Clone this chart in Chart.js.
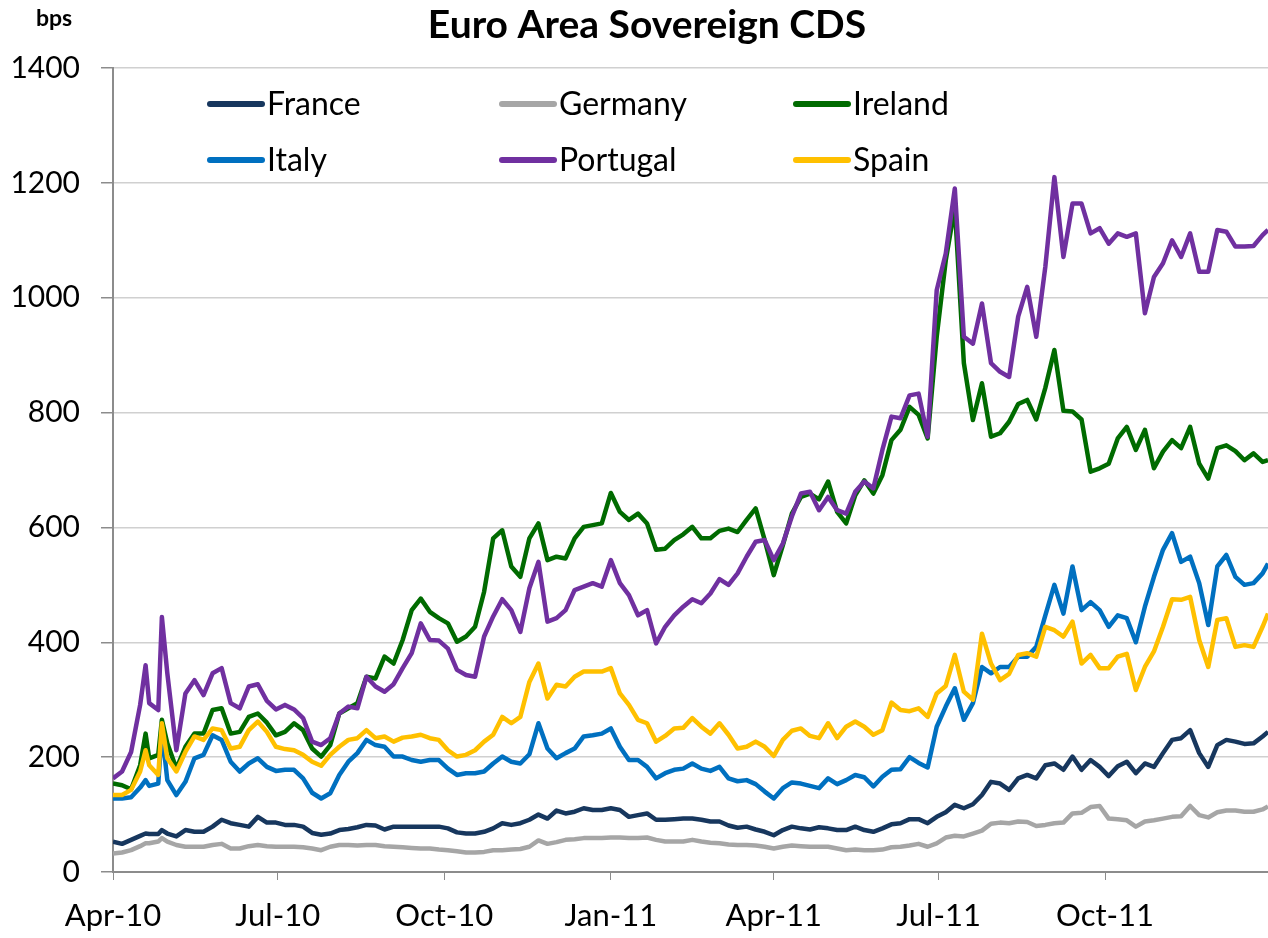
<!DOCTYPE html>
<html>
<head>
<meta charset="utf-8">
<title>Euro Area Sovereign CDS</title>
<script src="https://cdn.jsdelivr.net/npm/chart.js@4.4.1/dist/chart.umd.min.js"></script>
<style>
  body { margin: 0; background: #fff; }
  canvas { display: block; }
</style>
</head>
<body>
<canvas id="cdsChart" width="1268" height="938"></canvas>
<script>
// days since 1 Apr 2010
const days = [0, 5, 10, 15, 18, 20, 25, 27,
  30, 35, 40, 45, 50, 55, 60, 65, 70, 75,
  80, 85, 90, 95, 100, 105, 110, 115, 120, 125,
  130, 135, 140, 145, 150, 155, 160, 165, 170, 175,
  180, 185, 190, 195, 200, 205, 210, 215, 220, 225,
  230, 235, 240, 245, 250, 255, 260, 265, 270, 275,
  280, 285, 290, 295, 300, 305, 310, 315, 320, 325,
  330, 335, 340, 345, 350, 355, 360, 365, 370, 375,
  380, 385, 390, 395, 400, 405, 410, 415, 420, 425,
  430, 435, 440, 445, 450, 455, 460, 465, 470, 475,
  480, 485, 490, 495, 500, 505, 510, 515, 520, 525,
  530, 535, 540, 545, 550, 555, 560, 565, 570, 575,
  580, 585, 590, 595, 600, 605, 610, 615, 620, 625,
  630, 635, 638];

const tickDays = [0, 91, 183, 275, 365, 456, 548];
const tickLabels = ["Apr-10", "Jul-10", "Oct-10", "Jan-11", "Apr-11", "Jul-11", "Oct-11"];

const france = [53, 49, 56, 63, 67, 66, 66, 73,
  67, 62, 73, 70, 70, 79, 91, 85, 82, 79,
  96, 86, 86, 82, 82, 79, 68, 65, 67, 73,
  75, 78, 82, 81, 74, 79, 79, 79, 79, 79,
  79, 76, 69, 67, 67, 70, 76, 85, 82, 85,
  91, 100, 93, 107, 102, 105, 111, 108, 108, 111,
  108, 96, 99, 102, 91, 91, 92, 93, 93, 91,
  88, 88, 81, 77, 79, 74, 70, 64, 73, 79,
  76, 74, 78, 76, 73, 73, 79, 73, 70, 76,
  83, 85, 92, 92, 85, 96, 104, 117, 111, 118,
  134, 157, 154, 143, 163, 169, 163, 186, 189, 178,
  201, 178, 195, 183, 167, 184, 192, 172, 189, 183,
  207, 230, 233, 247, 207, 183, 221, 230, 227, 223,
  224, 236, 244];

const germany = [32, 34, 38, 45, 50, 50, 53, 59,
  53, 47, 44, 44, 44, 47, 49, 41, 41, 45,
  47, 45, 44, 44, 44, 43, 41, 38, 44, 47,
  47, 46, 47, 47, 45, 44, 43, 42, 41, 41,
  39, 38, 36, 34, 34, 35, 38, 38, 39, 40,
  44, 55, 49, 52, 56, 57, 59, 59, 59, 60,
  60, 59, 59, 60, 56, 53, 53, 53, 56, 53,
  51, 50, 48, 47, 47, 46, 44, 41, 44, 46,
  45, 44, 44, 44, 41, 38, 39, 38, 38, 39,
  43, 44, 46, 49, 44, 50, 60, 63, 62, 67,
  72, 84, 86, 85, 88, 87, 80, 82, 85, 86,
  102, 103, 113, 115, 93, 92, 90, 79, 88, 90,
  93, 96, 97, 115, 99, 95, 104, 107, 107, 105,
  105, 109, 114];

const ireland = [154, 151, 144, 186, 241, 198, 204, 265,
  224, 180, 218, 241, 241, 282, 285, 241, 244, 270,
  276, 260, 238, 244, 259, 247, 215, 201, 221, 276,
  285, 294, 340, 337, 375, 363, 404, 456, 476, 453,
  442, 433, 401, 410, 427, 488, 581, 595, 532, 514,
  581, 607, 543, 549, 546, 581, 601, 604, 607, 660,
  627, 613, 624, 607, 561, 563, 578, 588, 601, 581,
  581, 594, 598, 592, 613, 633, 578, 517, 569, 624,
  653, 659, 649, 680, 627, 607, 656, 682, 659, 691,
  752, 770, 810, 796, 755, 932, 1065, 1158, 886, 787,
  851, 758, 764, 784, 815, 822, 788, 843, 909, 803,
  802, 788, 697, 703, 711, 755, 775, 735, 770, 703,
  732, 752, 738, 775, 711, 685, 738, 743, 733, 717,
  729, 714, 717];

const italy = [128, 128, 130, 147, 160, 150, 154, 247,
  160, 134, 157, 198, 204, 238, 230, 192, 175, 189,
  198, 183, 176, 178, 178, 163, 138, 128, 137, 169,
  192, 207, 230, 221, 218, 201, 201, 195, 192, 195,
  195, 180, 169, 172, 172, 175, 189, 201, 192, 189,
  205, 259, 215, 198, 207, 215, 236, 238, 241, 250,
  218, 195, 195, 183, 163, 172, 178, 180, 189, 180,
  176, 183, 163, 158, 160, 153, 140, 128, 146, 156,
  154, 150, 146, 163, 153, 160, 169, 165, 149, 166,
  178, 179, 200, 190, 182, 253, 288, 320, 265, 294,
  357, 346, 357, 357, 375, 375, 392, 447, 500, 450,
  532, 456, 470, 456, 427, 447, 442, 400, 462, 514,
  561, 590, 540, 549, 503, 430, 532, 552, 514, 500,
  503, 520, 537];

const portugal = [163, 175, 209, 291, 360, 294, 282, 444,
  346, 212, 311, 334, 308, 346, 355, 294, 285, 323,
  327, 298, 283, 291, 283, 268, 227, 221, 233, 276,
  288, 285, 340, 323, 314, 327, 355, 381, 433, 404,
  403, 389, 352, 343, 340, 410, 445, 475, 456, 418,
  494, 540, 436, 442, 456, 491, 497, 503, 497, 543,
  503, 482, 447, 456, 398, 427, 447, 462, 475, 468,
  485, 510, 500, 520, 549, 575, 578, 543, 572, 619,
  659, 662, 630, 653, 630, 624, 662, 680, 668, 735,
  793, 790, 830, 833, 758, 1013, 1077, 1190, 932, 920,
  990, 886, 871, 862, 967, 1019, 932, 1054, 1210, 1071,
  1164, 1164, 1112, 1121, 1094, 1112, 1106, 1112, 973, 1036,
  1060, 1100, 1071, 1112, 1045, 1045, 1118, 1115, 1089, 1089,
  1090, 1109, 1118];

const spain = [134, 134, 143, 175, 212, 186, 169, 259,
  198, 175, 209, 236, 230, 250, 247, 215, 218, 247,
  262, 244, 218, 214, 212, 204, 192, 185, 204, 218,
  230, 233, 247, 233, 236, 227, 234, 236, 239, 233,
  230, 212, 201, 204, 212, 227, 239, 270, 259, 270,
  331, 363, 302, 326, 323, 340, 349, 349, 349, 355,
  311, 291, 265, 259, 227, 237, 250, 251, 268, 253,
  241, 259, 239, 215, 218, 227, 218, 202, 230, 246,
  250, 237, 233, 259, 233, 253, 262, 253, 239, 247,
  295, 282, 280, 285, 270, 311, 324, 378, 314, 300,
  415, 363, 334, 345, 378, 381, 375, 427, 421, 410,
  436, 363, 378, 355, 355, 375, 380, 317, 357, 384,
  427, 475, 474, 479, 404, 357, 439, 442, 392, 395,
  392, 427, 450];

const seriesNames = ["France", "Germany", "Ireland", "Italy", "Portugal", "Spain"];
const seriesValues = [france, germany, ireland, italy, portugal, spain];
const seriesColors = ["#17375E", "#A6A6A6", "#006B00", "#0070C0", "#7030A0", "#FFC000"];

const FONT = "Lato, 'Open Sans', sans-serif";

// title, unit label and the 3x2 legend drawn straight on the canvas
const decorations = {
  id: "decorations",
  afterDraw(chart, args, opts) {
    const ctx = chart.ctx;
    ctx.save();
    ctx.fillStyle = "#000";
    ctx.textBaseline = "alphabetic";
    ctx.textAlign = "center";
    ctx.font = "bold 39px " + FONT;
    ctx.fillText("Euro Area Sovereign CDS", 647, 38);
    ctx.textAlign = "left";
    ctx.font = "bold 23px " + FONT;
    ctx.fillText("bps", 36, 26);

    ctx.textBaseline = "middle";
    ctx.font = "32px " + FONT;
    chart.data.datasets.forEach((ds, i) => {
      const x = opts.colX[i % 3];
      const y = opts.rowY[Math.floor(i / 3)];
      ctx.strokeStyle = ds.borderColor;
      ctx.lineWidth = 6;
      ctx.lineCap = "round";
      ctx.beginPath();
      ctx.moveTo(x, y);
      ctx.lineTo(x + opts.sample, y);
      ctx.stroke();
      ctx.fillStyle = "#000";
      ctx.fillText(ds.label, x + opts.sample + 5, y + 1);
    });
    ctx.restore();
  },
};

new Chart(document.getElementById("cdsChart"), {
  type: "line",
  data: {
    datasets: seriesNames.map((name, i) => ({
      label: name,
      data: days.map((d, j) => ({ x: d, y: seriesValues[i][j] })),
      borderColor: seriesColors[i],
      backgroundColor: seriesColors[i],
      borderWidth: 4.5,
      pointRadius: 0,
      tension: 0,
      borderJoinStyle: "round",
      order: seriesNames.length - i,
    })),
  },
  options: {
    responsive: false,
    animation: false,
    devicePixelRatio: 1,
    layout: { padding: { top: 68, left: 0, right: 0, bottom: 0 } },
    plugins: {
      legend: { display: false },
      title: { display: false },
      tooltip: { enabled: false },
      decorations: { colX: [210, 502, 796], rowY: [104, 160], sample: 52 },
    },
    scales: {
      x: {
        type: "linear",
        min: 0,
        max: 638,
        afterBuildTicks: (scale) => {
          scale.ticks = tickDays.map((v) => ({ value: v }));
        },
        afterFit: (scale) => {
          scale.height = 66;
        },
        ticks: {
          autoSkip: false,
          maxRotation: 0,
          padding: 17,
          color: "#000",
          font: { family: FONT, size: 31 },
          callback: (v) => tickLabels[tickDays.indexOf(v)],
        },
        grid: {
          drawOnChartArea: false,
          drawTicks: true,
          tickLength: 8,
          tickColor: "#8c8c8c",
        },
        border: { color: "#8c8c8c", width: 2 },
      },
      y: {
        min: 0,
        max: 1400,
        afterFit: (scale) => {
          scale.width = 113;
        },
        ticks: {
          stepSize: 200,
          padding: 21,
          color: "#000",
          font: { family: FONT, size: 30 },
          callback: (v) => String(v),
        },
        grid: {
          color: "#d0d0d0",
          lineWidth: 1.5,
          tickLength: 12,
          tickColor: "#8c8c8c",
        },
        border: { color: "#8c8c8c", width: 2 },
      },
    },
  },
  plugins: [decorations],
});
</script>
</body>
</html>
